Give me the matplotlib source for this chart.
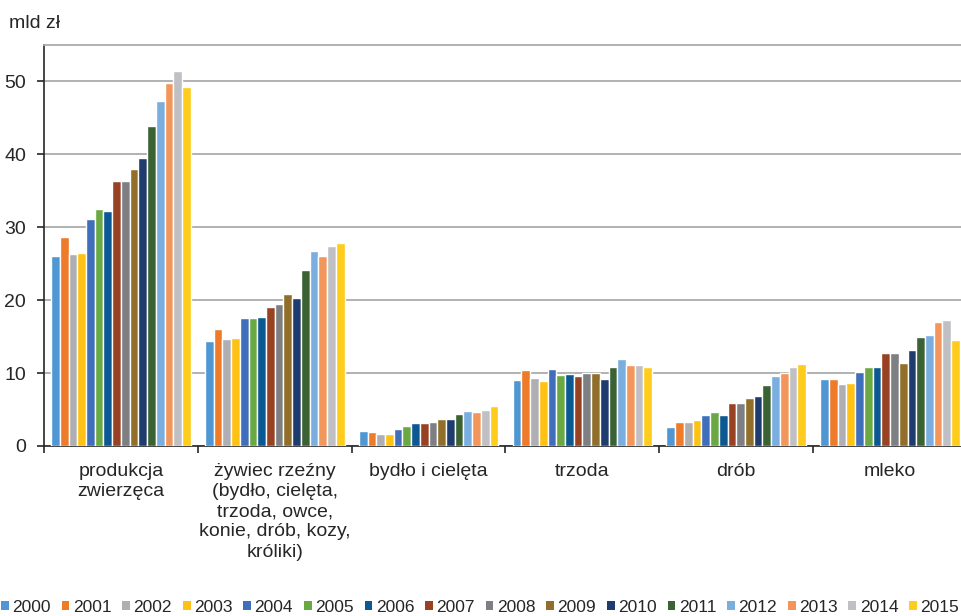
import numpy as np
import matplotlib
matplotlib.use("Agg")
import matplotlib.pyplot as plt
from matplotlib.patches import Patch

plt.rcParams['font.family'] = ['Liberation Sans', 'DejaVu Sans']

# categories and years
categories = ['produkcja\nzwierzęca',
              'żywiec rzeźny\n(bydło, cielęta,\ntrzoda, owce,\nkonie, drób, kozy,\nkróliki)',
              'bydło i cielęta', 'trzoda', 'drób', 'mleko']
years = ['2000', '2001', '2002', '2003', '2004', '2005', '2006', '2007',
         '2008', '2009', '2010', '2011', '2012', '2013', '2014', '2015']

# values in mld zł, one list per category (2000..2015)
produkcja = [26.1, 28.7, 26.3, 26.5, 31.1, 32.5, 32.3, 36.4, 36.3, 38.0, 39.5, 43.9, 47.3, 49.8, 51.5, 49.2]
zywiec = [14.4, 16.1, 14.7, 14.8, 17.6, 17.5, 17.7, 19.1, 19.5, 20.8, 20.3, 24.1, 26.8, 26.1, 27.5, 27.9]
bydlo = [2.1, 1.9, 1.7, 1.7, 2.3, 2.75, 3.2, 3.2, 3.35, 3.75, 3.75, 4.45, 4.85, 4.65, 4.95, 5.55]
trzoda = [9.1, 10.4, 9.3, 8.9, 10.5, 9.7, 9.85, 9.6, 9.95, 10.0, 9.2, 10.9, 12.0, 11.05, 11.15, 10.9]
drob = [2.65, 3.3, 3.3, 3.6, 4.2, 4.6, 4.2, 5.9, 5.9, 6.55, 6.85, 8.4, 9.55, 10.05, 10.9, 11.2]
mleko = [9.25, 9.25, 8.55, 8.65, 10.2, 10.9, 10.9, 12.8, 12.8, 11.4, 13.2, 14.9, 15.2, 17.0, 17.3, 14.6]

colors = ['#4E97D3', '#EE7B2A', '#AFAFB3', '#FFC214', '#3F6FBB', '#6AA843',
          '#0B5892', '#984223', '#7E7F83', '#916F2B', '#1E3C6E', '#3A6233',
          '#79AEDF', '#F3965B', '#C0C0C4', '#FFCC1C']

data = np.array([produkcja, zywiec, bydlo, trzoda, drob, mleko])  # (6 groups, 16 years)

W, H = 962, 616
fig = plt.figure(figsize=(W / 100, H / 100), dpi=100)
ax = fig.add_axes([44 / W, 170 / H, 923 / W, 401 / H])

x = np.arange(len(categories))
pitch = 0.0567
for i, yr in enumerate(years):
    off = (i - (len(years) - 1) / 2) * pitch
    ax.bar(x + off, data[:, i], width=pitch, color=colors[i],
           edgecolor='white', linewidth=1.0, zorder=3)

ax.set_xlim(-0.5, len(categories) - 0.5)
ax.set_ylim(0, 55)
ax.set_yticks([0, 10, 20, 30, 40, 50])
ax.yaxis.grid(True, color='#ABABAB', linewidth=1.3, zorder=0)

# boundaries as major ticks, category names as minor ticks
ax.set_xticks(np.arange(len(categories) + 1) - 0.5)
ax.set_xticklabels([])
ax.set_xticks(x, minor=True)
ax.set_xticklabels(categories, minor=True, fontsize=14, color='#262626',
                   linespacing=1.25, va='top')
ax.tick_params(axis='x', which='minor', length=0, pad=12)
ax.tick_params(axis='x', which='major', length=5, width=1.2, color='#262626')
ax.tick_params(axis='y', length=5, width=1.2, color='#262626', labelsize=14,
               labelcolor='#262626', pad=8)

for s in ['left', 'bottom']:
    ax.spines[s].set_color('#262626')
    ax.spines[s].set_linewidth(1.2)
ax.spines['top'].set_color('#ABABAB')
ax.spines['top'].set_linewidth(1.3)
ax.spines['right'].set_visible(False)

fig.text(9 / W, 1 - 28 / H, 'mld zł', fontsize=14, color='#262626', va='baseline')

handles = [Patch(facecolor=c, edgecolor='none') for c in colors]
fig.legend(handles, years, ncol=16, loc='center', bbox_to_anchor=(0.499, 1 - 607 / H),
           frameon=False, fontsize=12.5, handlelength=0.45, handleheight=0.45,
           handletextpad=0.2, columnspacing=0.62, borderpad=0, labelcolor='#262626')

fig.savefig('out.png', dpi=100)
